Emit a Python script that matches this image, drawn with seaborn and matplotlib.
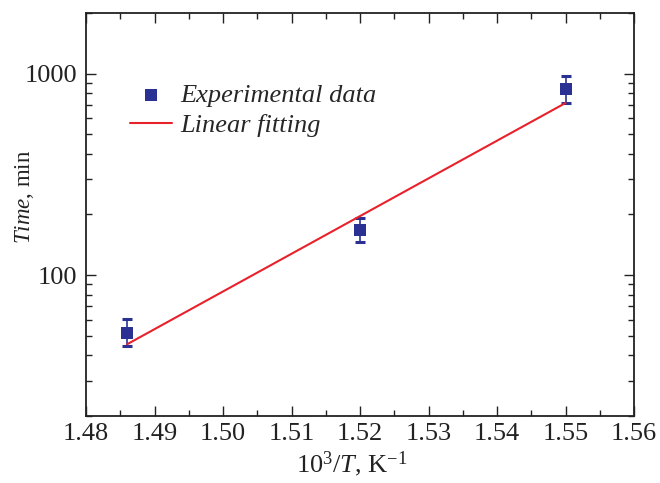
import matplotlib
matplotlib.use("Agg")
import matplotlib.pyplot as plt
import matplotlib.ticker as mticker
import seaborn as sns
import numpy as np
import pandas as pd

# Data
inv_T = [1.486, 1.520, 1.550]
time_min = [51.5, 167.5, 836.0]
err_lo = [7.2, 21.0, 121.0]
err_hi = [9.0, 24.0, 138.0]
fit_x = [1.486, 1.550]
fit_y = [45.4, 715.0]

sns.set_theme(style="ticks")
plt.rcParams['font.family'] = ['Liberation Serif', 'DejaVu Serif']
plt.rcParams['mathtext.fontset'] = 'custom'
plt.rcParams['mathtext.rm'] = 'Liberation Serif'
plt.rcParams['mathtext.it'] = 'Liberation Serif:italic'

navy = '#2B3192'
red = '#E8212B'
ink = '#222222'
FS = 19

fig = plt.figure(figsize=(6.6, 4.83), dpi=100)
ax = fig.add_axes([86/660, 1-416/483, (634-86)/660, (416-13)/483])

df = pd.DataFrame({'x': inv_T, 'y': time_min})
dfit = pd.DataFrame({'x': fit_x, 'y': fit_y})

ax.errorbar(inv_T, time_min, yerr=[err_lo, err_hi], fmt='none',
            ecolor=navy, elinewidth=1.2, capsize=3.5, capthick=2.2, zorder=2)
sns.lineplot(data=dfit, x='x', y='y', ax=ax, color=red, lw=1.5,
             label='Linear fitting', zorder=3)
sns.scatterplot(data=df, x='x', y='y', ax=ax, marker='s', s=80, color=navy,
                edgecolor=navy, linewidth=0, label='Experimental data', zorder=4)

ax.set_yscale('log')
ax.set_xlim(1.48, 1.56)
ax.set_ylim(20, 2000)
ax.xaxis.set_major_locator(mticker.MultipleLocator(0.01))
ax.xaxis.set_minor_locator(mticker.MultipleLocator(0.005))
ax.xaxis.set_major_formatter(mticker.FormatStrFormatter('%.2f'))
ax.yaxis.set_major_locator(mticker.LogLocator(base=10, numticks=10))
ax.yaxis.set_major_formatter(mticker.FuncFormatter(lambda v, p: f'{int(round(v))}'))
ax.yaxis.set_minor_locator(mticker.LogLocator(base=10, subs=np.arange(2, 10), numticks=20))
ax.yaxis.set_minor_formatter(mticker.NullFormatter())

ax.tick_params(which='both', direction='in', top=True, right=True,
               labelsize=FS, colors=ink, width=1.0)
ax.tick_params(which='major', length=7)
ax.tick_params(which='minor', length=4.5)
ax.tick_params(axis='x', which='major', pad=5)
ax.tick_params(axis='y', which='major', pad=6)
for s in ax.spines.values():
    s.set_linewidth(1.3)
    s.set_color(ink)

ax.set_xlabel(r'10$^{3}$/$\it{T}$, K$^{-1}$', fontsize=FS, labelpad=1, color=ink)
ax.xaxis.set_label_coords(0.485, -0.082)
ax.set_ylabel(r'$\it{Time}$, min', fontsize=16.5, color=ink)
ax.yaxis.set_label_coords(-0.092, 0.545)

h, l = ax.get_legend_handles_labels()
order = [l.index('Experimental data'), l.index('Linear fitting')]
leg = ax.legend([h[i] for i in order], [l[i] for i in order],
                loc='upper left', bbox_to_anchor=(0.051, 0.865), frameon=False,
                handlelength=1.6, handletextpad=0.32, labelspacing=0.25,
                borderaxespad=0.2,
                prop={'family': 'Liberation Serif', 'style': 'italic', 'size': FS})

fig.savefig('out.png', dpi=100)
